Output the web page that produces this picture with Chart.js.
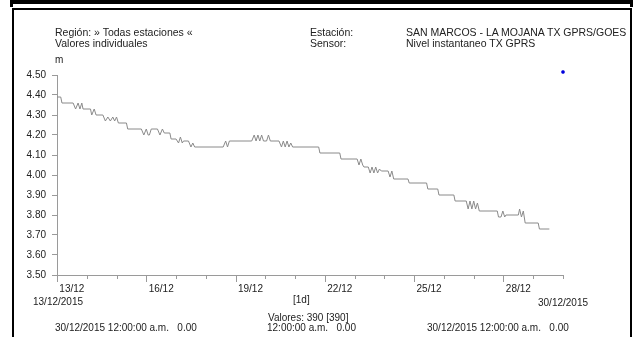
<!DOCTYPE html>
<html>
<head>
<meta charset="utf-8">
<script src="https://cdn.jsdelivr.net/npm/chart.js@4"></script>
<style>
  body { margin:0; background:#fff; font-family:"Liberation Sans", Arial, sans-serif; color:#222; }
  #wrap { position:relative; width:639px; height:337px; overflow:hidden; }
  #chart { position:absolute; left:0; top:0; }
  .t { position:absolute; white-space:nowrap; font-size:10px; line-height:12px; }
  .h { font-size:10.5px; }
  .band { position:absolute; background:#000; }
</style>
</head>
<body>
<div id="wrap">
  <canvas id="chart" width="639" height="337"></canvas>

  <!-- frame -->
  <div class="band" style="left:10px;top:0;width:623px;height:4px"></div>
  <div class="band" style="left:10px;top:0;width:3px;height:7px"></div>
  <div class="band" style="left:630px;top:0;width:3px;height:7px"></div>
  <div class="band" style="left:12px;top:8px;width:620px;height:2px"></div>
  <div class="band" style="left:12px;top:8px;width:2px;height:329px"></div>
  <div class="band" style="left:630px;top:8px;width:2px;height:329px"></div>

  <!-- header -->
  <div class="t h" style="left:55px;top:26px">Región: » Todas estaciones «</div>
  <div class="t h" style="left:55px;top:37px">Valores individuales</div>
  <div class="t h" style="left:310px;top:26px">Estación:</div>
  <div class="t h" style="left:310px;top:37px">Sensor:</div>
  <div class="t h" style="left:406px;top:26px">SAN MARCOS - LA MOJANA TX GPRS/GOES</div>
  <div class="t h" style="left:406px;top:37px">Nivel instantaneo TX GPRS</div>
  <div class="t" style="left:55px;top:54px">m</div>

  <!-- footer -->
  <div class="t" style="left:33px;top:296px">13/12/2015</div>
  <div class="t" style="left:538px;top:297px">30/12/2015</div>
  <div class="t" style="left:293px;top:294px">[1d]</div>
  <div class="t" style="left:268px;top:312px">Valores: 390 [390]</div>
  <div class="t" style="left:55px;top:322px">30/12/2015 12:00:00 a.m.&nbsp;&nbsp;&nbsp;0.00</div>
  <div class="t" style="left:267px;top:322px">12:00:00 a.m.&nbsp;&nbsp;&nbsp;0.00</div>
  <div class="t" style="left:427px;top:322px">30/12/2015 12:00:00 a.m.&nbsp;&nbsp;&nbsp;0.00</div>
</div>

<script>
// hours since 13/12/2015 00:00 and water level (m) at each change
const hours = [
  0, 3, 4, 13,
  15, 17, 18.5, 20, 21, 27,
  28, 30, 31.5, 37,
  39, 41, 43, 45, 46.5, 48, 49.5, 56,
  57, 68,
  70, 72, 73.5, 74.5, 76, 81,
  83, 85, 86.5, 91,
  92, 96, 98, 99.5, 101, 102, 106,
  108, 109.5, 111, 134,
  136, 137.5, 139, 157,
  159, 160.5, 162, 163.5, 165, 166.5, 169, 170.5, 172, 179,
  181, 182.5, 184, 185.5, 187, 188.5, 190, 211,
  212, 228,
  229, 242, 243.5, 245, 246.5, 247.5, 251,
  252.5, 254, 255.5, 257, 258.5, 260, 261.5, 267,
  268.5, 270, 271.5, 283,
  284, 298, 299, 307, 308, 320, 321, 330,
  331.5, 333, 334.5, 336, 337.5, 339, 340.5, 355,
  356, 358, 359.5, 361, 362, 372,
  373, 374.5, 376, 377.5, 388, 389, 397
];
const levels = [
  4.39, 4.39, 4.36, 4.36,
  4.33, 4.36, 4.33, 4.36, 4.33, 4.33,
  4.30, 4.33, 4.30, 4.30,
  4.27, 4.29, 4.27, 4.29, 4.27, 4.29, 4.26, 4.26,
  4.23, 4.23,
  4.20, 4.23, 4.20, 4.20, 4.23, 4.23,
  4.20, 4.23, 4.21, 4.21,
  4.18, 4.18, 4.16, 4.19, 4.16, 4.17, 4.17,
  4.14, 4.16, 4.14, 4.14,
  4.17, 4.14, 4.17, 4.17,
  4.20, 4.17, 4.20, 4.17, 4.20, 4.17, 4.17, 4.20, 4.17, 4.17,
  4.14, 4.17, 4.14, 4.17, 4.14, 4.16, 4.14, 4.14,
  4.11, 4.11,
  4.08, 4.08, 4.05, 4.08, 4.05, 4.04, 4.04,
  4.01, 4.04, 4.01, 4.04, 4.01, 4.03, 4.02, 4.02,
  3.99, 4.02, 3.98, 3.98,
  3.96, 3.96, 3.93, 3.93, 3.90, 3.90, 3.87, 3.87,
  3.83, 3.87, 3.83, 3.87, 3.83, 3.86, 3.82, 3.82,
  3.79, 3.79, 3.82, 3.79, 3.80, 3.80,
  3.83, 3.79, 3.82, 3.76, 3.76, 3.73, 3.73
];

// blue marker at the top right corner
const markerHour = [408];
const markerLevel = [4.515];

const xLabelHours = [12, 84, 156, 228, 300, 372];
const xLabels = ['13/12', '16/12', '19/12', '22/12', '25/12', '28/12'];
const dayCount = 17;

const axisColor = '#9a9a9a';

// day tick marks, longer every third day
const dayTicks = {
  id: 'dayTicks',
  afterDraw(chart) {
    const { ctx, scales: { x }, chartArea } = chart;
    ctx.save();
    ctx.strokeStyle = axisColor;
    ctx.lineWidth = 1;
    for (let d = 0; d <= dayCount; d++) {
      const px = Math.round(x.getPixelForValue(d * 24)) + 0.5;
      const len = d % 3 === 0 ? 7 : 4;
      ctx.beginPath();
      ctx.moveTo(px, chartArea.bottom);
      ctx.lineTo(px, chartArea.bottom + len);
      ctx.stroke();
    }
    ctx.restore();
  }
};

new Chart(document.getElementById('chart'), {
  type: 'line',
  data: {
    datasets: [
      {
        data: hours.map((h, i) => ({ x: h, y: levels[i] })),
        borderColor: '#8a8a8a',
        borderWidth: 1,
        pointRadius: 0,
        tension: 0
      },
      {
        type: 'scatter',
        data: markerHour.map((h, i) => ({ x: h, y: markerLevel[i] })),
        pointStyle: 'rect',
        pointRadius: 1.6,
        backgroundColor: '#0000dd',
        borderColor: '#0000dd',
        clip: false
      }
    ]
  },
  options: {
    responsive: false,
    animation: false,
    devicePixelRatio: 1,
    layout: { padding: { left: 0, top: 75, right: 76, bottom: 0 } },
    plugins: { legend: { display: false }, tooltip: { enabled: false } },
    scales: {
      x: {
        type: 'linear',
        min: 0,
        max: dayCount * 24,
        afterFit(s) { s.height = 62; },
        border: { display: true, color: axisColor, width: 1 },
        grid: { display: true, drawOnChartArea: false, drawTicks: false },
        ticks: {
          stepSize: 12,
          autoSkip: false,
          maxRotation: 0,
          padding: 8,
          color: '#222',
          font: { family: 'Liberation Sans', size: 10 },
          callback: v => {
            const i = xLabelHours.indexOf(v);
            return i >= 0 ? xLabels[i] : '';
          }
        }
      },
      y: {
        min: 3.5,
        max: 4.5,
        afterFit(s) { s.width = 57; },
        border: { display: true, color: axisColor, width: 1 },
        grid: { display: true, drawOnChartArea: false, drawTicks: true, tickLength: 5, tickColor: axisColor },
        ticks: {
          stepSize: 0.1,
          padding: 6,
          color: '#222',
          font: { family: 'Liberation Sans', size: 10 },
          callback: v => v.toFixed(2)
        }
      }
    }
  },
  plugins: [dayTicks]
});
</script>
</body>
</html>
